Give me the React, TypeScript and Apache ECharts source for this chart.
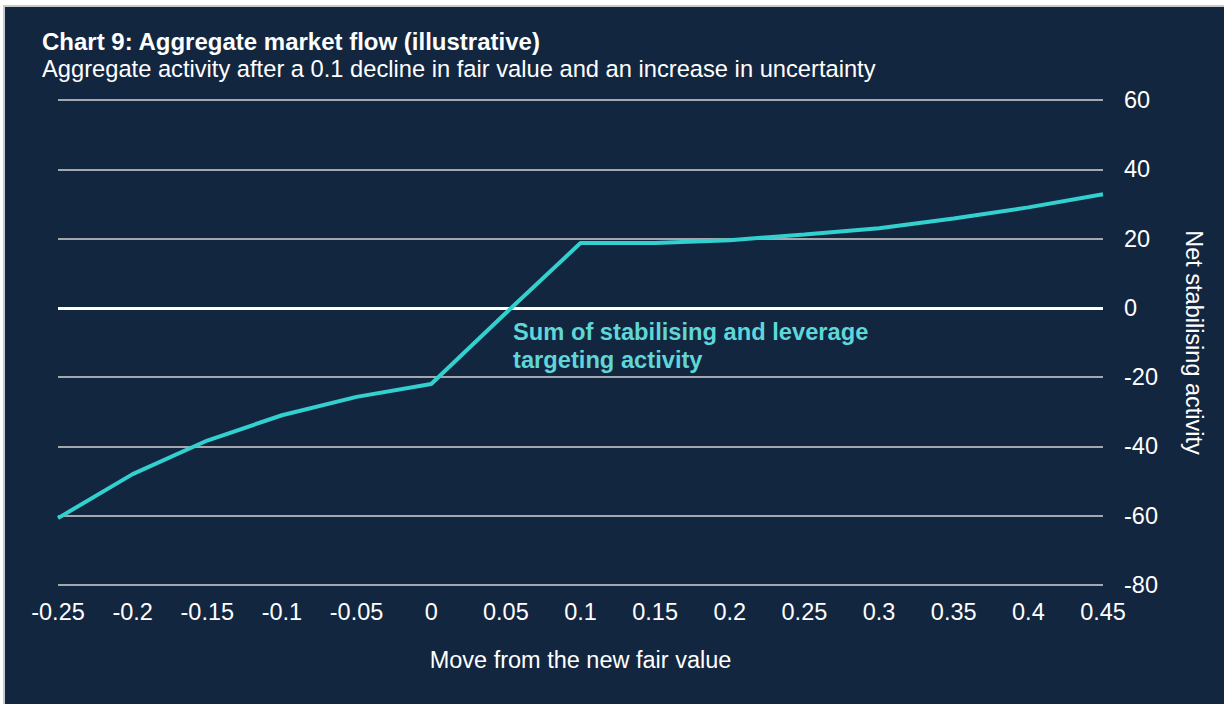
import React, { useEffect, useRef } from "react";
import * as echarts from "echarts";

const xCategories = ["-0.25", "-0.2", "-0.15", "-0.1", "-0.05", "0", "0.05", "0.1", "0.15", "0.2", "0.25", "0.3", "0.35", "0.4", "0.45"];
const aggregateFlow = [-60.7, -48, -38.3, -31, -25.7, -22, -1.5, 18.7, 18.7, 19.5, 21.2, 23, 25.8, 29, 32.8];
const yMin = -80;
const yMax = 60;
const yInterval = 20;

const titleText = "Chart 9: Aggregate market flow (illustrative)";
const subtitleText = "Aggregate activity after a 0.1 decline in fair value and an increase in uncertainty";
const annotationText = "Sum of stabilising and leverage\ntargeting activity";
const xAxisName = "Move from the new fair value";
const yAxisName = "Net stabilising activity";

const NAVY = "#13263f";
const TEAL = "#33d0d0";
const FONT = "Arial, 'Liberation Sans', Helvetica, sans-serif";

export default function App() {
  const ref = useRef<HTMLDivElement>(null);

  useEffect(() => {
    document.body.style.margin = "0";
    if (!ref.current) return;
    const chart = echarts.init(ref.current, undefined, { renderer: "svg" });
    chart.setOption({
      animation: false,
      backgroundColor: "transparent",
      textStyle: { fontFamily: FONT },
      grid: { left: 58, right: 121, top: 100, bottom: 119, containLabel: false },
      xAxis: {
        type: "category",
        data: xCategories,
        boundaryGap: false,
        axisLine: { show: false },
        axisTick: { show: false },
        splitLine: { show: false },
        axisLabel: { color: "#ffffff", fontSize: 23.5, margin: 15, fontFamily: FONT, interval: 0 },
        name: xAxisName,
        nameLocation: "middle",
        nameGap: 63,
        nameTextStyle: { color: "#ffffff", fontSize: 23.5, fontFamily: FONT },
      },
      yAxis: {
        type: "value",
        position: "right",
        min: yMin,
        max: yMax,
        interval: yInterval,
        axisLine: { show: false },
        axisTick: { show: false },
        splitLine: { show: true, lineStyle: { color: "#d4d4d4", width: 1.5 } },
        axisLabel: { color: "#ffffff", fontSize: 23.5, margin: 21, fontFamily: FONT },
        name: yAxisName,
        nameLocation: "middle",
        nameRotate: -90,
        nameGap: 79,
        nameTextStyle: { color: "#ffffff", fontSize: 23.5, fontFamily: FONT },
      },
      series: [
        {
          type: "line",
          data: aggregateFlow,
          symbol: "none",
          lineStyle: { color: TEAL, width: 4 },
          z: 3,
          markLine: {
            silent: true,
            symbol: "none",
            label: { show: false },
            lineStyle: { color: "#ffffff", width: 3, type: "solid" },
            data: [{ yAxis: 0 }],
            z: 2,
          },
        },
      ],
      graphic: [
        {
          type: "text",
          left: 42,
          top: 29,
          style: { text: titleText, fill: "#ffffff", font: `bold 24px ${FONT}` },
        },
        {
          type: "text",
          left: 42,
          top: 57,
          style: { text: subtitleText, fill: "#ffffff", font: `23.7px ${FONT}` },
        },
        {
          type: "text",
          left: 513,
          top: 318,
          style: { text: annotationText, fill: "#5fd6d8", font: `bold 23.7px ${FONT}`, lineHeight: 28 },
        },
      ],
    });
    return () => chart.dispose();
  }, []);

  return (
    <div style={{ position: "relative", width: 1224, height: 704, background: "#ffffff", overflow: "hidden" }}>
      <div
        style={{
          position: "absolute",
          left: 3,
          top: 5,
          width: 1221,
          height: 699,
          background: "#c9c9c9",
        }}
      />
      <div
        style={{
          position: "absolute",
          left: 5,
          top: 7,
          width: 1219,
          height: 697,
          background: NAVY,
        }}
      />
      <div ref={ref} style={{ position: "absolute", left: 0, top: 0, width: 1224, height: 704 }} />
    </div>
  );
}
